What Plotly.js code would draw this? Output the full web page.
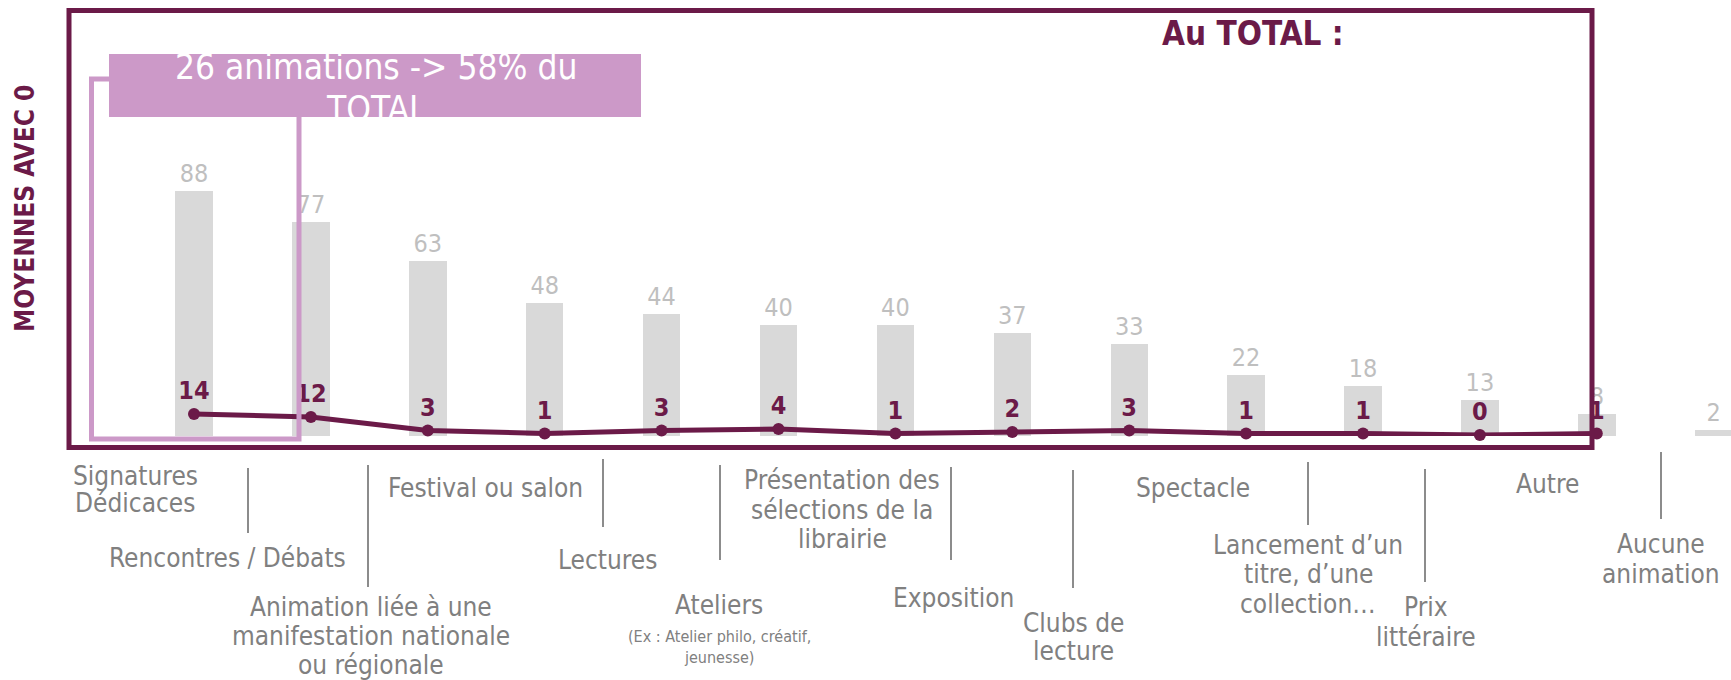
<!DOCTYPE html>
<html>
<head>
<meta charset="utf-8">
<script src="https://cdn.plot.ly/plotly-3.0.1.min.js"></script>
<style>html,body{margin:0;padding:0;background:#fff;overflow:hidden}</style>
</head>
<body>
<div id="chart" style="width:1731px;height:680px"></div>
<script>
// ---------- DATA ----------
const categories = [
  "Signatures Dédicaces",
  "Rencontres / Débats",
  "Animation liée à une manifestation nationale ou régionale",
  "Festival ou salon",
  "Lectures",
  "Ateliers",
  "Présentation des sélections de la librairie",
  "Exposition",
  "Clubs de lecture",
  "Spectacle",
  "Lancement d’un titre, d’une collection…",
  "Prix littéraire",
  "Autre",
  "Aucune animation"
];
const tickLabels = [
  "Signatures<br>Dédicaces",
  "Rencontres / Débats",
  "Animation liée à une<br>manifestation nationale<br>ou régionale",
  "Festival ou salon",
  "Lectures",
  "Ateliers",
  "Présentation des<br>sélections de la<br>librairie",
  "Exposition",
  "Clubs de<br>lecture",
  "Spectacle",
  "Lancement d’un<br>titre, d’une<br>collection…",
  "Prix<br>littéraire",
  "Autre",
  "Aucune<br>animation"
];
const ateliersNote = "(Ex : Atelier philo, créatif,<br>jeunesse)";
const totalValues = [88, 77, 63, 48, 44, 40, 40, 37, 33, 22, 18, 13, 8, 2];
const meanWithZero = [14, 12, 3, 1, 3, 4, 1, 2, 3, 1, 1, 0, 1, null];
const boxText = ["26 animations -> 58% du", "TOTAL"];
const totalTitle = "Au TOTAL :";
const yTitle = "MOYENNES AVEC 0";

// ---------- LAYOUT HELPERS ----------
const W = 1731, H = 680;
const M = {l: 0, r: 0, t: 10, b: 244};
const PW = W - M.l - M.r, PH = H - M.t - M.b;
const px = x => (x - M.l) / PW;
const py = y => (H - M.b - y) / PH;

const FONT = "DejaVu Sans Condensed, DejaVu Sans, sans-serif";
const PURPLE = "#6b1a48";
const PINK = "#cc99c8";
const LABEL_GRAY = "#808080";

// label placement (pixel layout), per category: center x, line centers y
const labelPos = [
  {x: 135, y: [476, 503]},
  {x: 227, y: [558]},
  {x: 371, y: [607, 636, 665]},
  {x: 485, y: [488]},
  {x: 607, y: [560]},
  {x: 719, y: [605]},
  {x: 842, y: [480, 510, 539]},
  {x: 953, y: [598]},
  {x: 1073, y: [623, 651]},
  {x: 1193, y: [488]},
  {x: 1308, y: [545, 574, 604]},
  {x: 1426, y: [607, 637]},
  {x: 1547, y: [484]},
  {x: 1661, y: [544, 574]}
];
const notePos = {x: 719, y: [636, 657]};
const separators = [
  [248, 468, 533], [368, 465, 587], [603, 459, 527], [720, 465, 560],
  [951, 467, 560], [1073, 470, 588], [1308, 462, 525], [1425, 469, 582],
  [1661, 452, 519]
];

// ---------- TRACES ----------
const bars = {
  type: "bar",
  x: categories,
  y: totalValues,
  width: 0.32,
  marker: {color: "#d9d9d9"},
  text: totalValues.map(String),
  textposition: "outside",
  constraintext: "none",
  cliponaxis: false,
  textfont: {family: FONT, size: 25, color: "#bfbfbf"},
  hoverinfo: "skip"
};
const line = {
  type: "scatter",
  mode: "lines+markers+text",
  x: categories,
  y: meanWithZero,
  yaxis: "y2",
  connectgaps: false,
  line: {color: PURPLE, width: 5},
  marker: {color: PURPLE, size: 12},
  text: meanWithZero.map(v => v === null ? "" : String(v)),
  textposition: "top center",
  textfont: {family: FONT, size: 25, color: PURPLE, weight: "bold"},
  cliponaxis: false,
  hoverinfo: "skip"
};

// ---------- SHAPES ----------
const shapes = [];
shapes.push({type: "rect", xref: "paper", yref: "paper", layer: "above",
  x0: px(91.5), x1: px(299), y0: py(439), y1: py(79),
  line: {color: PINK, width: 5}, fillcolor: "rgba(0,0,0,0)"});
shapes.push({type: "rect", xref: "paper", yref: "paper", layer: "above",
  x0: px(109), x1: px(641), y0: py(117), y1: py(54),
  line: {width: 0}, fillcolor: PINK});
shapes.push({type: "rect", xref: "paper", yref: "paper", layer: "above",
  x0: px(69), x1: px(1592), y0: py(447.5), y1: py(10.5),
  line: {color: PURPLE, width: 5}, fillcolor: "rgba(0,0,0,0)"});
separators.forEach(s => shapes.push({type: "line", xref: "paper", yref: "paper",
  x0: px(s[0]), x1: px(s[0]), y0: py(s[1]), y1: py(s[2]),
  line: {color: "#8c8c8c", width: 2}}));

// ---------- ANNOTATIONS ----------
const ann = [];
const txt = (text, x, y, size, color, extra) => Object.assign({
  text: text, xref: "paper", yref: "paper", x: px(x), y: py(y),
  xanchor: "center", yanchor: "middle", showarrow: false,
  font: {family: FONT, size: size, color: color}
}, extra || {});

tickLabels.forEach((lab, i) => {
  lab.split("<br>").forEach((ln, j) => {
    ann.push(txt(ln, labelPos[i].x, labelPos[i].y[j], 26, LABEL_GRAY));
  });
});
ateliersNote.split("<br>").forEach((ln, j) => {
  ann.push(txt(ln, notePos.x, notePos.y[j], 16, LABEL_GRAY));
});
ann.push(txt(yTitle, 25, 209, 26, PURPLE, {textangle: -90,
  font: {family: FONT, size: 26, color: PURPLE, weight: "bold"}}));
ann.push(txt(totalTitle, 1160, 33, 33, PURPLE, {xanchor: "left",
  font: {family: FONT, size: 33, color: PURPLE, weight: "bold"}}));
ann.push(txt(boxText[0], 376, 67, 35, "#ffffff"));
ann.push(txt(boxText[1], 376, 109, 35, "#ffffff"));

// ---------- LAYOUT ----------
const layout = {
  width: W, height: H, autosize: false,
  margin: M,
  paper_bgcolor: "#ffffff", plot_bgcolor: "#ffffff",
  showlegend: false,
  bargap: 0,
  xaxis: {type: "category", categoryorder: "array", categoryarray: categories,
    range: [-1.6596, 13.148], visible: false, fixedrange: true},
  yaxis: {range: [0, 153.2], visible: false, fixedrange: true},
  yaxis2: {range: [-0.667, 283.33], overlaying: "y", visible: false, fixedrange: true},
  shapes: shapes,
  annotations: ann
};

Plotly.newPlot("chart", [bars, line], layout, {staticPlot: true, displayModeBar: false});
</script>
</body>
</html>
